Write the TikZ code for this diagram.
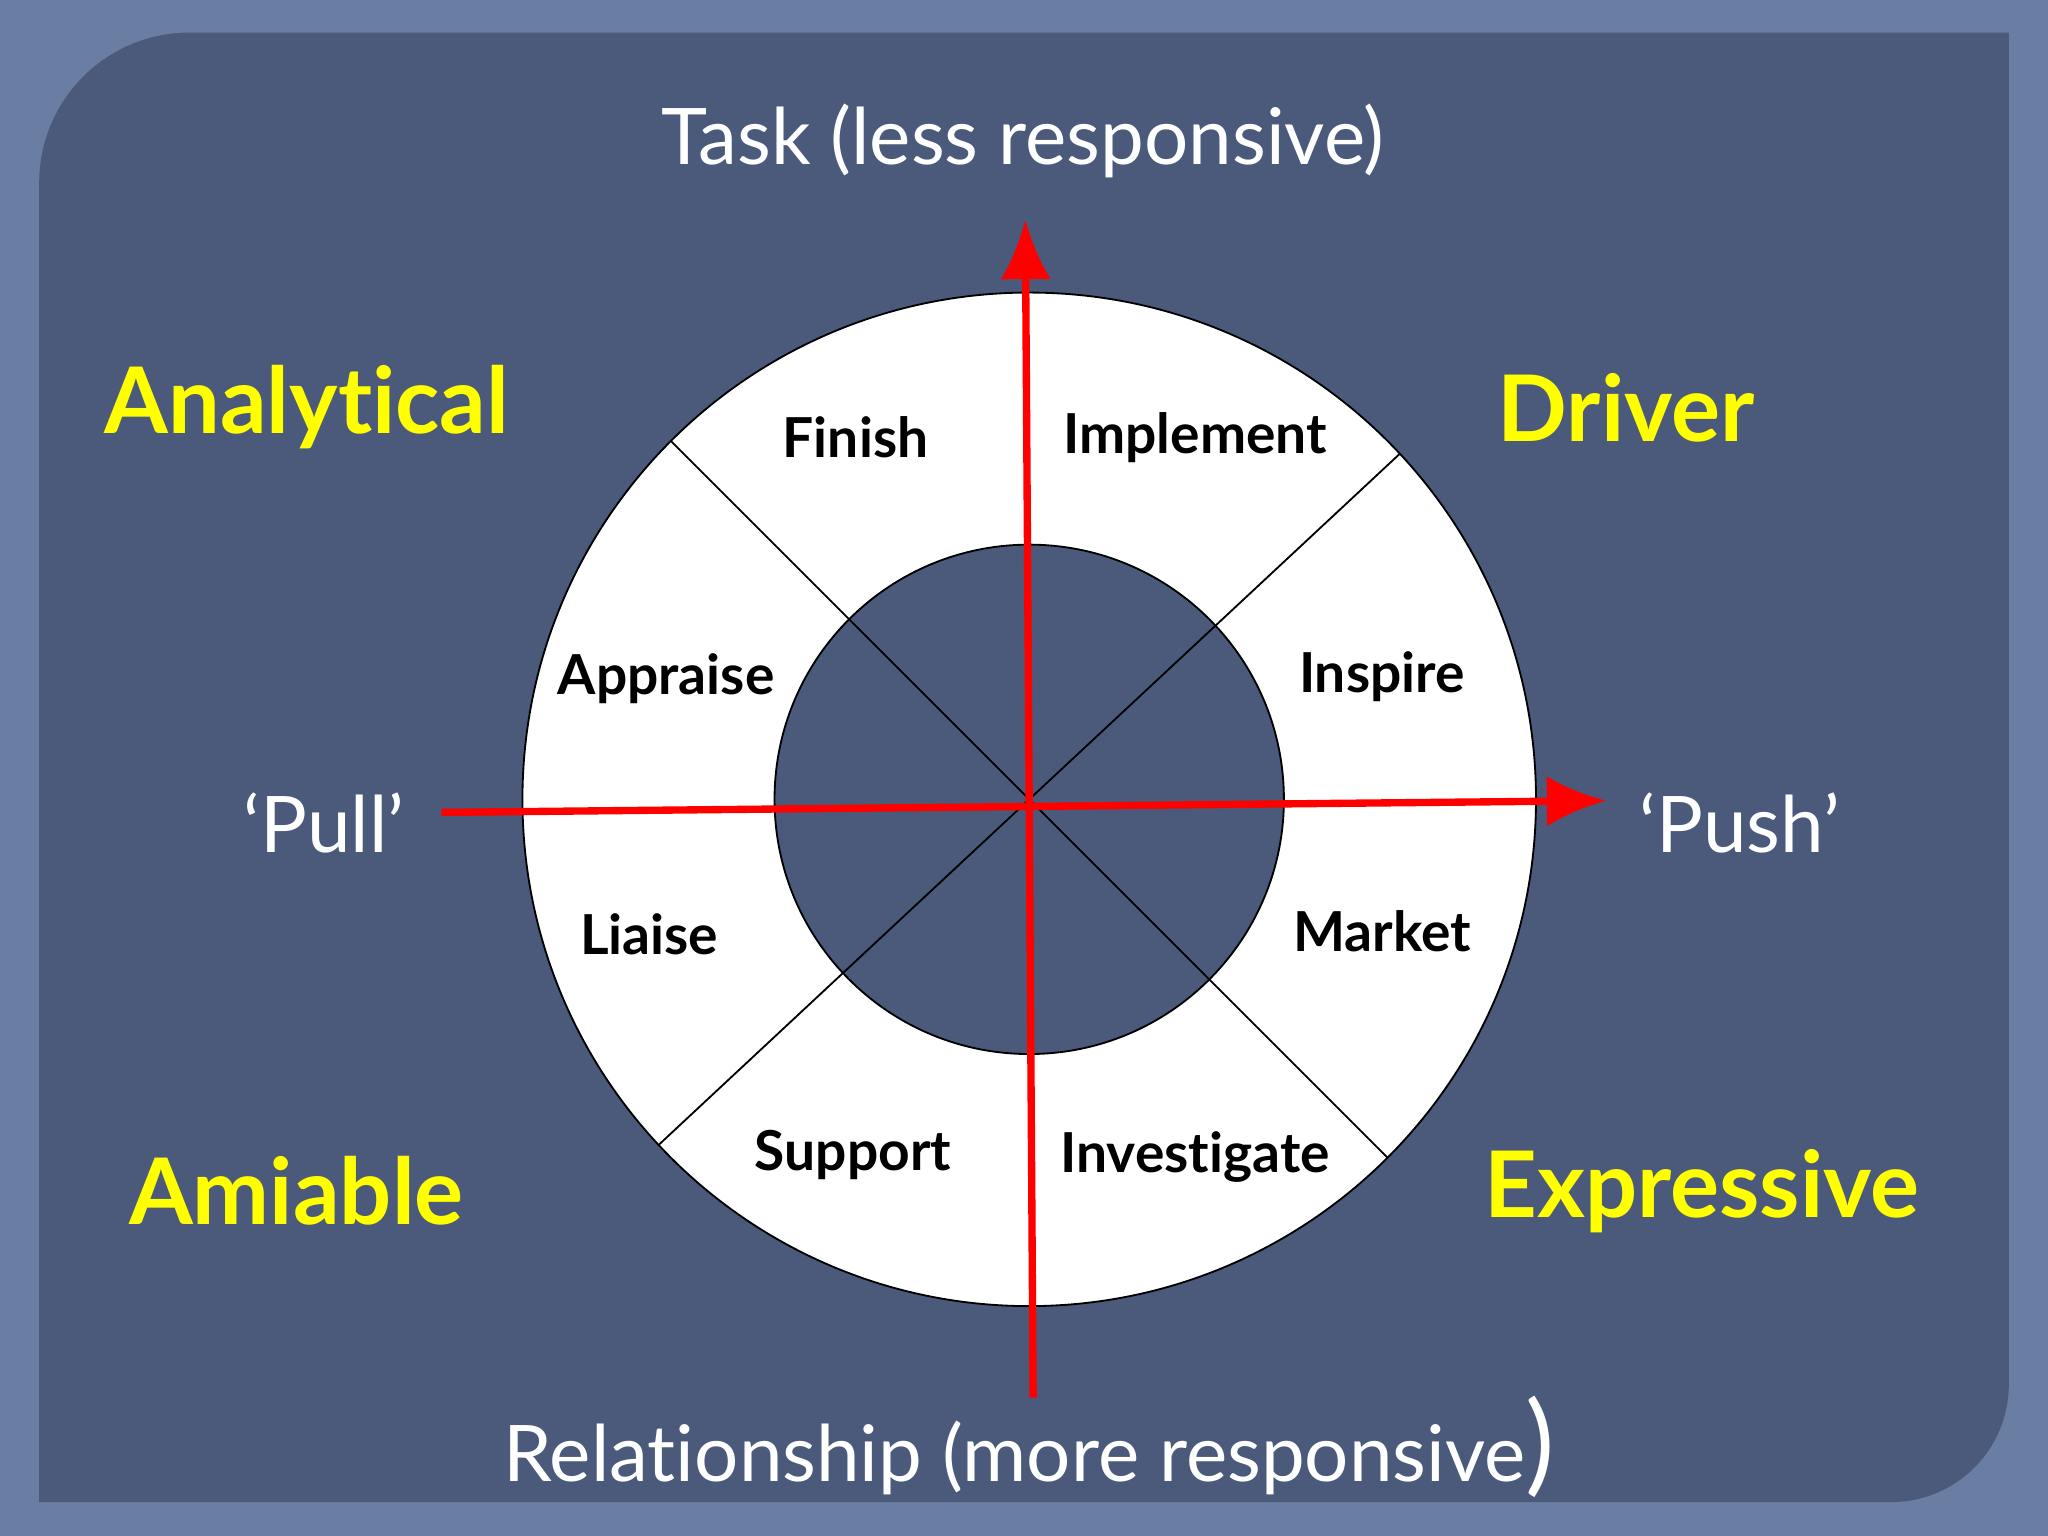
\documentclass[tikz,border=0pt]{standalone}
\usepackage{fontspec}
\setmainfont{Lato}[Ligatures={NoCommon}]
\usetikzlibrary{arrows.meta}
\definecolor{frame}{HTML}{6A7EA3}
\definecolor{panel}{HTML}{4B5A7B}
\definecolor{arr}{HTML}{FF0000}
\definecolor{yel}{HTML}{FFFF00}
\begin{document}
\begin{tikzpicture}[x=0.01cm, y=-0.01cm,
    seg/.style = {font=\fontsize{12}{14}\selectfont\bfseries, text=black},
    kind/.style = {font=\fontsize{20}{24}\selectfont\bfseries, text=yel},
    axis/.style = {font=\fontsize{17}{20}\selectfont, text=white},
    redarrow/.style = {draw=arr, line width=1.6pt, -{Latex[length=13pt,width=11pt]}}]
% background
\fill[frame] (0,0) rectangle (1568,1176);
\fill[panel] (30,140) arc[start angle=180, end angle=90, radius=1.15cm] -- (1538,25)
  -- (1538,1060) arc[start angle=0, end angle=-90, radius=0.9cm] -- (30,1150) -- cycle;
% wheel
\coordinate (c) at (788,612);
\fill[white, draw=black, line width=0.4pt] (c) circle (388);
\fill[panel, draw=black, line width=0.4pt] (c) circle (195);
\draw[black, line width=0.4pt] (c) ++(225:388) -- ++(45:776);
\draw[black, line width=0.4pt] (c) ++(137:388) -- ++(-43:776);
% segment labels
\node[seg] (fin) at (655,335) {Finish};
\node[seg] (imp) at (915,335) {Implement};
\node[seg] (app) at (510,520) {Appraise};
\node[seg] (ins) at (1058,518) {Inspire};
\node[seg] (lia) at (497,715) {Liaise};
\node[seg] (mar) at (1058,713) {Market};
\node[seg] (sup) at (653,884) {Support};
\node[seg] (inv) at (915,886) {Investigate};
% axes
\coordinate (top) at (785,168);
\coordinate (bot) at (791,1070);
\coordinate (lft) at (338,622);
\coordinate (rgt) at (1230,613);
\draw[redarrow] (bot) -- (top);
\draw[redarrow] (lft) -- (rgt);
% style names
\node[kind] (ana) at (235,312) {Analytical};
\node[kind] (drv) at (1245,312) {Driver};
\node[kind] (ami) at (227,912) {Amiable};
\node[kind] (exp) at (1303,912) {Expressive};
% axis labels
\node[axis] (task) at (783,108) {Task (less responsive)};
\node[axis] (pull) at (248,630) {‘Pull’};
\node[axis] (push) at (1332,630) {‘Push’};
\node[axis] (rel) at (788,1108) {Relationship (more responsive{\fontsize{24}{26}\selectfont )}};
\end{tikzpicture}
\end{document}
